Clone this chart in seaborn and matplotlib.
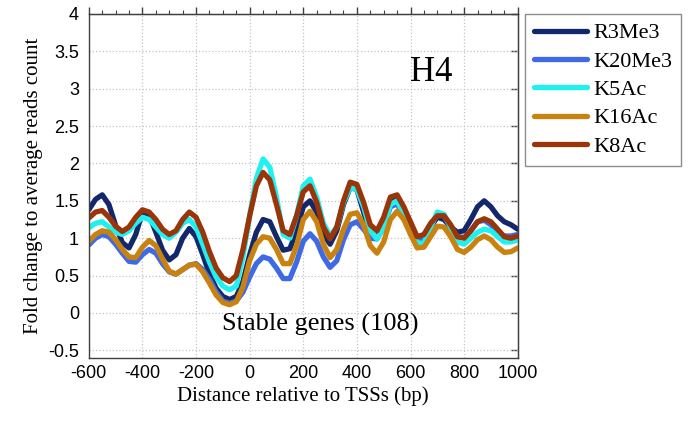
import numpy as np
import pandas as pd
import matplotlib
matplotlib.use('Agg')
import matplotlib.pyplot as plt
from matplotlib.ticker import MultipleLocator, FormatStrFormatter
import seaborn as sns

# distance to TSS (bp), one point every 25 bp
distance = list(range(-600, 1001, 25))

r3me3 = [1.38, 1.52, 1.58, 1.45, 1.17, 0.94, 0.87, 1.05, 1.35, 1.31, 1.08, 0.84, 0.71, 0.78, 1.00, 1.13,
         1.02, 0.78, 0.52, 0.33, 0.22, 0.18, 0.22, 0.42, 0.78, 1.08, 1.25, 1.22, 1.02, 0.84, 0.86, 1.10,
         1.42, 1.50, 1.35, 1.05, 0.92, 1.10, 1.45, 1.68, 1.65, 1.35, 1.05, 1.00, 1.22, 1.50, 1.52, 1.35,
         1.12, 0.98, 0.98, 1.15, 1.28, 1.25, 1.15, 1.08, 1.10, 1.25, 1.42, 1.50, 1.42, 1.30, 1.22, 1.18,
         1.12]
k20me3 = [0.91, 1.00, 1.05, 1.02, 0.92, 0.80, 0.69, 0.68, 0.78, 0.85, 0.80, 0.66, 0.55, 0.52, 0.58, 0.64,
          0.66, 0.58, 0.45, 0.28, 0.16, 0.13, 0.16, 0.28, 0.48, 0.66, 0.75, 0.72, 0.60, 0.46, 0.46, 0.68,
          0.96, 1.06, 0.96, 0.75, 0.61, 0.70, 0.98, 1.18, 1.22, 1.12, 1.00, 0.99, 1.15, 1.42, 1.46, 1.30,
          1.10, 0.97, 0.98, 1.15, 1.32, 1.30, 1.15, 1.02, 1.01, 1.10, 1.22, 1.24, 1.18, 1.08, 1.03, 1.03,
          1.05]
k5ac = [1.14, 1.20, 1.22, 1.15, 1.08, 1.05, 1.10, 1.20, 1.28, 1.25, 1.15, 1.05, 1.00, 1.08, 1.20, 1.25,
        1.15, 0.92, 0.68, 0.48, 0.36, 0.31, 0.36, 0.75, 1.30, 1.80, 2.06, 1.95, 1.55, 1.05, 1.00, 1.30,
        1.70, 1.79, 1.55, 1.20, 1.03, 1.15, 1.48, 1.68, 1.65, 1.42, 1.10, 0.99, 1.15, 1.45, 1.50, 1.32,
        1.10, 0.94, 0.93, 1.15, 1.35, 1.32, 1.15, 0.95, 0.92, 1.00, 1.08, 1.12, 1.10, 1.02, 0.95, 0.95,
        0.98]
k16ac = [0.96, 1.05, 1.10, 1.08, 0.98, 0.85, 0.75, 0.74, 0.88, 0.97, 0.90, 0.72, 0.56, 0.52, 0.58, 0.64,
         0.65, 0.55, 0.40, 0.24, 0.14, 0.11, 0.15, 0.35, 0.70, 0.92, 1.02, 1.00, 0.85, 0.66, 0.66, 0.90,
         1.25, 1.36, 1.22, 0.92, 0.74, 0.85, 1.12, 1.32, 1.34, 1.18, 0.90, 0.80, 0.95, 1.25, 1.36, 1.25,
         1.05, 0.87, 0.88, 1.02, 1.16, 1.15, 1.02, 0.85, 0.81, 0.88, 0.98, 1.03, 0.98, 0.88, 0.81, 0.82,
         0.87]
k8ac = [1.27, 1.35, 1.37, 1.28, 1.16, 1.09, 1.15, 1.28, 1.38, 1.35, 1.25, 1.12, 1.05, 1.10, 1.25, 1.35,
        1.28, 1.08, 0.82, 0.60, 0.47, 0.42, 0.50, 0.85, 1.30, 1.70, 1.88, 1.78, 1.45, 1.10, 1.05, 1.30,
        1.62, 1.70, 1.48, 1.15, 0.99, 1.15, 1.50, 1.75, 1.72, 1.48, 1.18, 1.10, 1.28, 1.55, 1.58, 1.42,
        1.22, 1.02, 1.05, 1.20, 1.30, 1.30, 1.18, 1.02, 1.00, 1.10, 1.22, 1.26, 1.22, 1.12, 1.02, 1.00,
        1.03]

marks = ['R3Me3', 'K20Me3', 'K5Ac', 'K16Ac', 'K8Ac']
colors = ['#13286b', '#3f6ae6', '#1ff0f0', '#c98210', '#9a3409']

df = pd.concat([pd.DataFrame({'distance': distance, 'fold': vals, 'mark': m})
                for m, vals in zip(marks, [r3me3, k20me3, k5ac, k16ac, k8ac])])

sns.set_style('white')
plt.rcParams['axes.unicode_minus'] = False
plt.rcParams['text.color'] = 'black'
plt.rcParams['axes.labelcolor'] = 'black'
serif = ['Liberation Serif', 'DejaVu Serif']
sans = ['Liberation Sans', 'DejaVu Sans']

fig = plt.figure(figsize=(6.94, 4.21), dpi=100)
ax = fig.add_axes([0.128, 0.150, 0.618, 0.817])

sns.lineplot(data=df, x='distance', y='fold', hue='mark', hue_order=marks,
             palette=colors, linewidth=3.8, ax=ax, legend=True)

ax.set_xlim(-600, 1000)
ax.set_ylim(-0.6, 4.0)
ax.xaxis.set_major_locator(MultipleLocator(200))
ax.xaxis.set_minor_locator(MultipleLocator(50))
ax.yaxis.set_major_locator(MultipleLocator(0.5))
ax.yaxis.set_major_formatter(FormatStrFormatter('%g'))
ax.grid(True, which='major', linestyle=':', color='#c4c4c4', linewidth=0.9)

for s in ax.spines.values():
    s.set_color('#404040')
    s.set_linewidth(1.0)

ax.tick_params(axis='x', which='major', direction='in', length=6, width=1, colors='#404040',
               labelcolor='black', labelsize=13, pad=5)
ax.tick_params(axis='x', which='minor', direction='in', length=3, width=0.8, colors='#404040')
ax.tick_params(axis='y', which='major', direction='out', length=5, width=1, colors='#404040',
               labelcolor='black', labelsize=13, pad=2)
for lab in ax.get_xticklabels() + ax.get_yticklabels():
    lab.set_family(sans)

# ticks on the top and right edges
top = ax.secondary_xaxis('top')
top.xaxis.set_major_locator(MultipleLocator(200))
top.xaxis.set_minor_locator(MultipleLocator(50))
top.tick_params(which='major', direction='out', length=5, width=1, colors='#404040', labeltop=False)
top.tick_params(which='minor', direction='out', length=3, width=0.8, colors='#404040')
right = ax.secondary_yaxis('right')
right.yaxis.set_major_locator(MultipleLocator(0.5))
right.tick_params(direction='in', length=5, width=1, colors='#404040', labelright=False)

ax.set_xlabel('Distance relative to TSSs (bp)', family=serif, fontsize=15, labelpad=3)
ax.set_ylabel('Fold change to average reads count', family=serif, fontsize=15, labelpad=4)

ax.text(0.798, 0.83, 'H4', transform=ax.transAxes, family=serif, fontsize=25,
        ha='center', va='center')
ax.text(0.54, 0.098, 'Stable genes (108)', transform=ax.transAxes, family=serif, fontsize=19,
        ha='center', va='center')

handles, labels = ax.get_legend_handles_labels()
leg = ax.legend(handles, labels, loc='upper left', bbox_to_anchor=(0.756, 0.967),
                bbox_transform=fig.transFigure, frameon=True, fancybox=False,
                prop={'family': serif, 'size': 16}, handlelength=2.4, handletextpad=0.3,
                labelspacing=0.35, borderpad=0.4, borderaxespad=0)
leg.get_frame().set_edgecolor('#707070')
leg.get_frame().set_linewidth(1.0)
for line in leg.get_lines():
    line.set_linewidth(3.8)

fig.savefig('out.png', dpi=100)
